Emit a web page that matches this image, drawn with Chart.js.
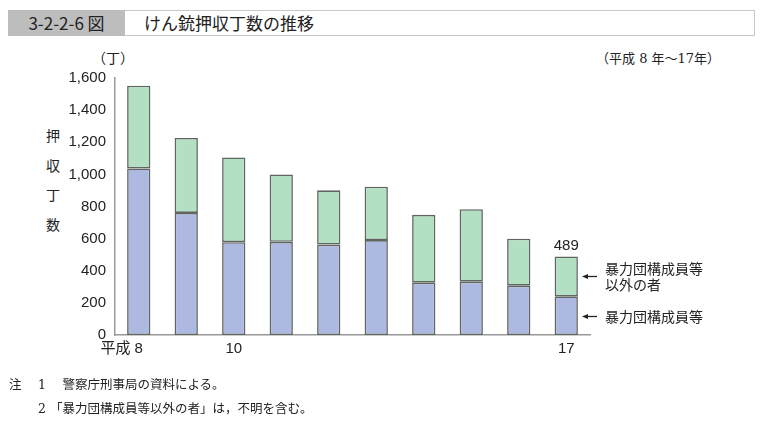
<!DOCTYPE html>
<html>
<head>
<meta charset="utf-8">
<script src="https://cdn.jsdelivr.net/npm/chart.js@4"></script>
<style>
  body { margin: 0; background: #fff; width: 764px; height: 422px; overflow: hidden; position: relative;
         font-family: "Liberation Sans", "Noto Sans CJK JP", sans-serif; }
  #chart { position: absolute; left: 0; top: 0; }
  .titlebar { position: absolute; left: 8px; top: 10px; width: 747px; height: 26px; }
  .titlebar .num { position: absolute; left: 0; top: 0; width: 117px; height: 26px; background: #bdbdbd;
         font-size: 17px; line-height: 26px; text-align: center; color: #222; font-family: "Liberation Sans Narrow", "Noto Sans CJK JP", sans-serif; }
  .titlebar .name { position: absolute; left: 117px; top: 0; right: 0; height: 24px; border: 1px solid #c8c8c8; border-left: none;
         font-size: 17px; line-height: 24px; padding-left: 19px; color: #222; font-family: "Noto Sans CJK JP", sans-serif; }
  .period { position: absolute; left: 596px; top: 48px; font-size: 13px; color: #222; font-family: "DejaVu Serif", "Noto Sans CJK JP", serif; }
  .unit { position: absolute; left: 92px; top: 47px; font-size: 14px; color: #222; font-family: "Noto Sans CJK JP", sans-serif; }
  .ytitle { position: absolute; left: 46px; top: 121px; width: 16px; font-size: 14px; line-height: 29.5px; color: #222; font-family: "Noto Sans CJK JP", sans-serif; }
  .notes { position: absolute; left: 9px; top: 373px; font-size: 12.5px; line-height: 24px; color: #222; font-family: "DejaVu Serif", "Noto Sans CJK JP", serif; white-space: pre; }
</style>
</head>
<body>
<div class="titlebar"><div class="num">3-2-2-6 図</div><div class="name">けん銃押収丁数の推移</div></div>
<div class="unit">（丁）</div>
<div class="period">（平成 8 年～17年）</div>
<div class="ytitle">押<br>収<br>丁<br>数</div>
<canvas id="chart" width="764" height="422"></canvas>
<div class="notes">注　 1 　警察庁刑事局の資料による。
　　 2 「暴力団構成員等以外の者」は，不明を含む。</div>
<script>
var years = ['平成 8', '9', '10', '11', '12', '13', '14', '15', '16', '17'];
var shownYears = ['平成 8', '10', '17'];
var gangMembers = [1037, 760, 578, 580, 563, 591, 326, 332, 307, 241];
var others = [515, 467, 527, 420, 338, 332, 422, 451, 293, 248];
var yTicks = [0, 200, 400, 600, 800, 1000, 1200, 1400, 1600];
var totalLabel = '489';
var seriesNames = ['暴力団構成員等', '暴力団構成員等以外の者'];

var annotate = {
  id: 'annotate',
  afterDraw: function(chart) {
    var ctx = chart.ctx;
    var x = chart.scales.x, y = chart.scales.y;
    var last = years.length - 1;
    var cx = x.getPixelForValue(last);
    var a = gangMembers[last], b = others[last];
    ctx.save();
    ctx.fillStyle = '#222';
    ctx.font = '15px "Liberation Sans", sans-serif';
    ctx.textAlign = 'center';
    ctx.textBaseline = 'bottom';
    ctx.fillText(totalLabel, cx, y.getPixelForValue(a + b) - 3);

    var ax = 582, ax2 = 597;
    var rows = [
      { yy: y.getPixelForValue(a + b / 2), lines: ['暴力団構成員等', '以外の者'] },
      { yy: y.getPixelForValue(a / 2), lines: ['暴力団構成員等'] }
    ];
    ctx.font = '14px "Noto Sans CJK JP", sans-serif';
    ctx.textAlign = 'left';
    ctx.textBaseline = 'middle';
    rows.forEach(function(r) {
      var yy = Math.round(r.yy) + 0.5;
      ctx.strokeStyle = '#222';
      ctx.lineWidth = 1.3;
      ctx.beginPath();
      ctx.moveTo(ax + 3, yy);
      ctx.lineTo(ax2, yy);
      ctx.stroke();
      ctx.beginPath();
      ctx.moveTo(ax, yy);
      ctx.lineTo(ax + 6, yy - 2.5);
      ctx.lineTo(ax + 6, yy + 2.5);
      ctx.closePath();
      ctx.fillStyle = '#222';
      ctx.fill();
      var start = yy - (r.lines.length - 1) * 8;
      r.lines.forEach(function(t, i) {
        ctx.fillText(t, 605, start + i * 16);
      });
    });
    ctx.restore();
  }
};

new Chart(document.getElementById('chart'), {
  type: 'bar',
  data: {
    labels: years,
    datasets: [{
      label: seriesNames[0],
      data: gangMembers,
      backgroundColor: '#aeb9e1',
      borderColor: '#5f6660',
      borderWidth: 1.6,
      borderSkipped: false,
      barPercentage: 0.49,
      categoryPercentage: 1.0
    }, {
      label: seriesNames[1],
      data: others,
      backgroundColor: '#b3dfc3',
      borderColor: '#5f6660',
      borderWidth: 1.6,
      borderSkipped: false,
      barPercentage: 0.49,
      categoryPercentage: 1.0
    }]
  },
  options: {
    responsive: false,
    animation: false,
    layout: { padding: { left: 0, right: 174, top: 78, bottom: 56 } },
    plugins: { legend: { display: false }, tooltip: { enabled: false } },
    scales: {
      x: {
        stacked: true,
        grid: { display: false, drawTicks: false },
        border: { display: true, color: '#999', width: 1.5 },
        afterFit: function(s) { s.height = 31; },
        ticks: {
          color: '#222',
          padding: 5,
          maxRotation: 0,
          autoSkip: false,
          font: { size: 15, family: '"Liberation Sans", "Noto Sans CJK JP", sans-serif' },
          callback: function(v, i) {
            var l = years[i];
            if (shownYears.indexOf(l) < 0) return '';
            return i === 0 ? l + '\u3000\u3000 ' : l;
          }
        }
      },
      y: {
        stacked: true,
        min: 0,
        max: 1600,
        afterFit: function(s) { s.width = 115; },
        afterBuildTicks: function(s) { s.ticks = yTicks.map(function(v) { return { value: v }; }); },
        grid: { display: false, drawTicks: false },
        border: { display: true, color: '#999', width: 1.5 },
        ticks: {
          color: '#222',
          padding: 9,
          font: { size: 15, family: '"Liberation Sans", sans-serif' },
          callback: function(v) { return v.toLocaleString('en-US'); }
        }
      }
    }
  },
  plugins: [annotate]
});
</script>
</body>
</html>
